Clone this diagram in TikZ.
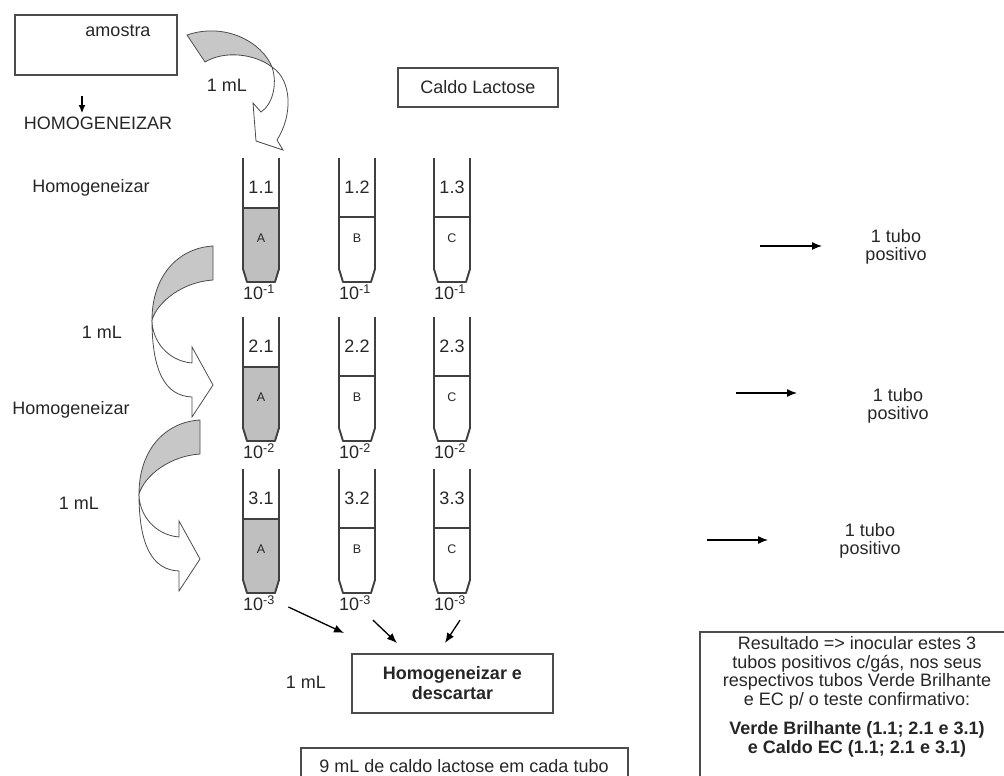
\documentclass[tikz,border=0pt]{standalone}
\usepackage{fontspec}
\setmainfont{Liberation Sans}
\usetikzlibrary{arrows.meta}

\begin{document}
\begin{tikzpicture}[x=1pt,y=-1pt,
    every node/.style={font=\fontsize{18}{18.5}\selectfont, text=black!85},
    caixa/.style={draw=black!70, line width=1.1pt},
    tubo/.style={draw=black!75, line width=1.9pt, line join=round},
    liquido/.style={fill=black!25},
    seta/.style={line width=1.3pt, -{Latex[length=10pt,width=8pt]}},
    setinha/.style={line width=1.4pt, -{Latex[length=8pt,width=7pt]}},
    costas/.style={fill=black!22, draw=black!70, line width=0.8pt},
    frente/.style={fill=white, draw=black!70, line width=0.8pt},
    letra/.style={font=\fontsize{12.5}{13}\selectfont},
    curva/.pic={
      \draw[frente] (-61,74) .. controls (-61,95) and (-45,115) .. (-21,117) -- (-21,101) -- (0,139) -- (-21,171) -- (-21,151) .. controls (-48,150) and (-61,125) .. (-61,74) -- cycle;
      \draw[costas] (0,0) .. controls (-35,2) and (-61,30) .. (-61,74) .. controls (-55,55) and (-30,36) .. (0,34) -- cycle;
    }]
\useasboundingbox (0,0) rectangle (1004,776);
%----amostra------------------------------------
\node[caixa, minimum width=162, minimum height=60] (amostra) at (96,45) {};
\node (amostraTxt) at (118,31) {amostra};
\node (homog) at (98,123) {HOMOGENEIZAR};
\draw[setinha] ([shift={(-14,20)}]amostra.south) -- ([xshift=-16]homog.north);
\node[caixa, minimum width=160, minimum height=39] (caldo) at (478,87.5) {Caldo Lactose};
%----first curved arrow-------------------------
\draw[frente] (272,67) .. controls (278,85) and (272,105) .. (261,112) -- (253,103) -- (256,141) -- (283,150) -- (277,140) .. controls (293,115) and (292,80) .. (272,67) -- cycle;
\draw[costas] (187,35) .. controls (225,22) and (262,42) .. (272,67) .. controls (255,54) and (225,50) .. (205,62) -- cycle;
\node (ml1) at (227,85) {1 mL};
%----other curved arrows------------------------
\pic at (213,246) {curva};
\pic at (200,420) {curva};
%----tubes--------------------------------------
\foreach \lin/\ty/\e in {1/158/-1, 2/317/-2, 3/469/-3}{
  \foreach \col/\tx/\l/\nv in {1/261/A/50, 2/357/B/59, 3/452/C/59}{
    \ifnum\col=1
      \fill[liquido] (\tx-18,\ty+\nv) -- (\tx-18,\ty+111) -- (\tx-14,\ty+124) -- (\tx+14,\ty+124) -- (\tx+18,\ty+111) -- (\tx+18,\ty+\nv) -- cycle;
    \fi
    \draw[tubo] (\tx-18,\ty) -- (\tx-18,\ty+111) -- (\tx-14,\ty+124) -- (\tx+14,\ty+124) -- (\tx+18,\ty+111) -- (\tx+18,\ty);
    \draw[tubo, line width=1.4pt] (\tx-18,\ty+\nv) -- (\tx+18,\ty+\nv);
    \node (n\lin\col) at (\tx,\ty+29) {\lin.\col};
    \node[letra] (l\lin\col) at (\tx,\ty+80) {\l};
    \node (e\lin\col) at (\tx-2,\ty+134) {10\textsuperscript{\e}};
  }
}
%----text left----------------------------------
\node (hom1) at (91,188) {Homogeneizar};
\node (ml2) at (102,332) {1 mL};
\node (hom2) at (71,410) {Homogeneizar};
\node (ml3) at (79,503) {1 mL};
%----positive tubes-----------------------------
\node[align=center] (pos1) at (896,247) {1 tubo\\positivo};
\node[align=center] (pos2) at (898,406) {1 tubo\\positivo};
\node[align=center] (pos3) at (870,541) {1 tubo\\positivo};
\coordinate (r1) at (760,246);
\coordinate (r2) at (736,393);
\coordinate (r3) at (707,540);
\draw[seta] (r1) -- ++(62,0);
\draw[seta] (r2) -- ++(61,0);
\draw[seta] (r3) -- ++(61,0);
%----discard------------------------------------
\node[caixa, minimum width=201, minimum height=59, align=center, font=\fontsize{18}{20}\selectfont\bfseries] (desc) at (452.5,683.5) {Homogeneizar e\\descartar};
\node (ml4) at (306,682) {1 mL};
\coordinate (d1) at (344,633);
\coordinate (d2) at (397,643);
\coordinate (d3) at (445,643);
\draw[seta] ([shift={(10,4)}]e31.east) -- (d1);
\draw[seta] ([shift={(18,6)}]e32.south) -- (d2);
\draw[seta] ([shift={(10,6)}]e33.south) -- (d3);
%----bottom notes-------------------------------
\draw[caixa] (301,790) -- (301,748) -- (628,748) -- (628,790);
\node (nove) at (464,766) {9 mL de caldo lactose em cada tubo};
\draw[caixa] (700,790) -- (700,632) -- (1010,632);
\node[align=center] (result) at (857,697) {Resultado => inocular estes 3\\tubos positivos c/gás, nos seus\\respectivos tubos Verde Brilhante\\e EC p/ o teste confirmativo:\\[11pt]\textbf{Verde Brilhante (1.1; 2.1 e 3.1)}\\\textbf{e Caldo EC (1.1; 2.1 e 3.1)}};
\end{tikzpicture}
\end{document}
